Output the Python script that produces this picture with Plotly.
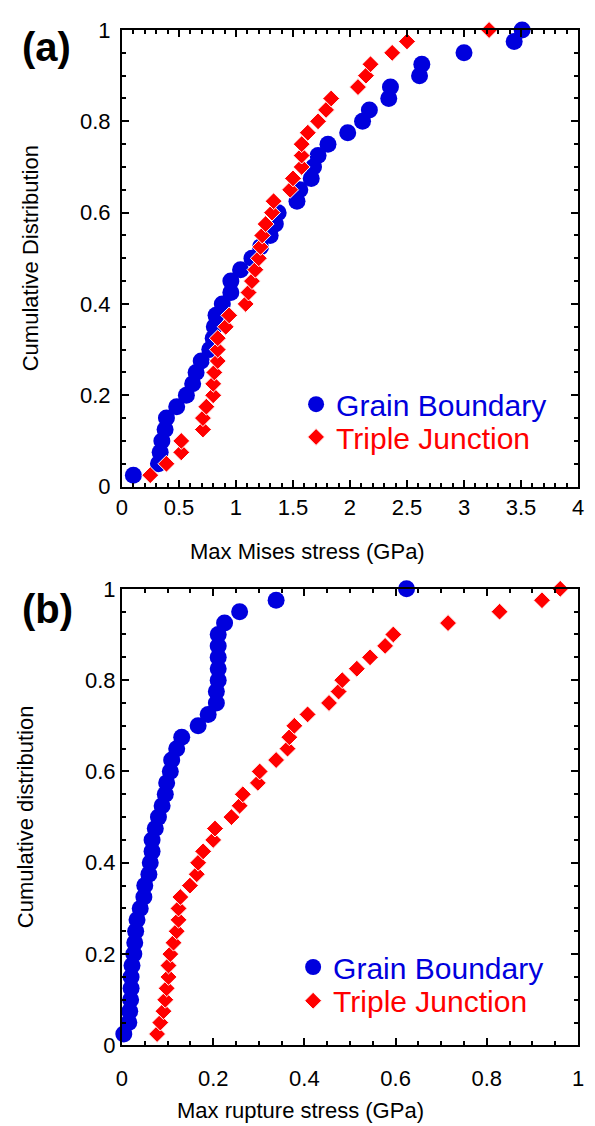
import plotly.graph_objects as go

cdf_levels = [0.025, 0.05, 0.075, 0.1, 0.125, 0.15, 0.175, 0.2, 0.225, 0.25,
              0.275, 0.3, 0.325, 0.35, 0.375, 0.4, 0.425, 0.45, 0.475, 0.5,
              0.525, 0.55, 0.575, 0.6, 0.625, 0.65, 0.675, 0.7, 0.725, 0.75,
              0.775, 0.8, 0.825, 0.85, 0.875, 0.9, 0.925, 0.95, 0.975, 1.0]

mises_gb = [0.10, 0.32, 0.335, 0.35, 0.378, 0.39, 0.48, 0.565, 0.62, 0.65,
            0.695, 0.77, 0.80, 0.81, 0.825, 0.88, 0.955, 0.955, 1.04, 1.14,
            1.215, 1.30, 1.345, 1.37, 1.535, 1.56, 1.66, 1.68, 1.72, 1.807,
            1.98, 2.11, 2.17, 2.34, 2.355, 2.61, 2.63, 3.0, 3.44, 3.51]

mises_tj = [0.248, 0.39, 0.52, 0.52, 0.71, 0.71, 0.74, 0.80, 0.80, 0.81,
            0.84, 0.84, 0.84, 0.91, 0.94, 1.085, 1.11, 1.14, 1.17, 1.20,
            1.215, 1.23, 1.26, 1.316, 1.33, 1.475, 1.50, 1.576, 1.576, 1.576,
            1.63, 1.72, 1.79, 1.835, 2.07, 2.14, 2.18, 2.37, 2.50, 3.22]

rupture_gb = [0.004, 0.015, 0.017, 0.019, 0.02, 0.02, 0.022, 0.026, 0.028, 0.03,
              0.033, 0.04, 0.048, 0.05, 0.059, 0.062, 0.066, 0.066, 0.073, 0.08,
              0.088, 0.095, 0.098, 0.106, 0.109, 0.12, 0.131, 0.167, 0.189, 0.207,
              0.207, 0.211, 0.211, 0.211, 0.211, 0.211, 0.225, 0.258, 0.338, 0.624]

rupture_tj = [0.077, 0.084, 0.091, 0.095, 0.098, 0.102, 0.102, 0.106, 0.113, 0.12,
              0.124, 0.124, 0.128, 0.149, 0.164, 0.167, 0.178, 0.20, 0.204, 0.24,
              0.258, 0.265, 0.298, 0.302, 0.338, 0.363, 0.367, 0.378, 0.407, 0.454,
              0.475, 0.483, 0.515, 0.544, 0.577, 0.595, 0.715, 0.828, 0.921, 0.961]

series_names = ["Grain Boundary", "Triple Junction"]

OFF = 8                      # default page body margin
W, H = 595 - OFF, 1126 - OFF
ML, MR, MT, MB = 20, 10, 14, 25
FONT = "Liberation Sans, Arial, sans-serif"
BLUE = "#0000dd"
RED = "#ff0000"

def px_x(p):
    return (p - OFF - ML) / (W - ML - MR)

def px_y(p):
    return 1 - (p - OFF - MT) / (H - MT - MB)

def clamp(v):
    return min(1.0, max(0.0, v))

gb_marker = dict(symbol="circle", size=17, color=BLUE, line=dict(width=0))
tj_marker = dict(symbol="diamond", size=13, color=RED, line=dict(width=1, color="white"))

fig = go.Figure()
fig.add_trace(go.Scatter(x=mises_gb, y=cdf_levels, mode="markers", name=series_names[0],
                         marker=gb_marker, xaxis="x", yaxis="y", legend="legend",
                         cliponaxis=False))
fig.add_trace(go.Scatter(x=mises_tj, y=cdf_levels, mode="markers", name=series_names[1],
                         marker=tj_marker, xaxis="x", yaxis="y", legend="legend2",
                         cliponaxis=False))
fig.add_trace(go.Scatter(x=rupture_gb, y=cdf_levels, mode="markers", name=series_names[0],
                         marker=gb_marker, xaxis="x2", yaxis="y2", legend="legend3",
                         cliponaxis=False))
fig.add_trace(go.Scatter(x=rupture_tj, y=cdf_levels, mode="markers", name=series_names[1],
                         marker=tj_marker, xaxis="x2", yaxis="y2", legend="legend4",
                         cliponaxis=False))

tickfont = dict(family=FONT, size=22, color="black")

def axis(dom, rng, dtick, minor_dtick, anchor, standoff):
    return dict(domain=[clamp(dom[0]), clamp(dom[1])], range=rng, dtick=dtick, anchor=anchor,
                showline=True, linewidth=2, linecolor="black", mirror="ticks",
                ticks="inside", ticklen=7, tickwidth=2, tickcolor="black",
                minor=dict(ticks="inside", dtick=minor_dtick, ticklen=4,
                           tickwidth=1.5, tickcolor="black"),
                ticklabelstandoff=standoff,
                showgrid=False, zeroline=False, tickfont=tickfont)

xdom = [px_x(123), px_x(584)]
fig.update_layout(
    xaxis=axis(xdom, [0, 4], 0.5, 0.1, "y", 0),
    yaxis=axis([px_y(482), px_y(22)], [0, 1], 0.2, 0.05, "x", 5),
    xaxis2=axis(xdom, [0, 1], 0.2, 0.05, "y2", 12),
    yaxis2=axis([px_y(1045), px_y(585)], [0, 1], 0.2, 0.05, "x2", 0),
)

def leg(xp, yp, color):
    return dict(x=px_x(xp), y=px_y(yp), xanchor="left", yanchor="middle",
                xref="paper", yref="paper", itemsizing="trace",
                bgcolor="rgba(0,0,0,0)", borderwidth=0,
                font=dict(family=FONT, size=30, color=color))

fig.update_layout(
    legend=leg(299, 399, BLUE),
    legend2=leg(299, 432, RED),
    legend3=leg(296, 966, BLUE),
    legend4=leg(296, 1000, RED),
)

annot_font = dict(family=FONT, size=22, color="black")
annotations = [
    dict(text="Max Mises stress (GPa)", x=px_x(311), y=px_y(547)),
    dict(text="Max rupture stress (GPa)", x=px_x(303), y=px_y(1111)),
    dict(text="Cumulative Distribution", x=px_x(30), y=px_y(252), textangle=-90),
    dict(text="Cumulative distribution", x=px_x(25), y=px_y(815), textangle=-90),
]
for a in annotations:
    a.update(xref="paper", yref="paper", xanchor="center", yanchor="middle",
             showarrow=False, font=annot_font)
annotations.append(dict(text="<b>(a)</b>", x=px_x(47), y=px_y(39), xref="paper", yref="paper",
                        xanchor="center", yanchor="middle", showarrow=False,
                        font=dict(family=FONT, size=40, color="black")))
annotations.append(dict(text="<b>(b)</b>", x=px_x(48), y=px_y(605), xref="paper", yref="paper",
                        xanchor="center", yanchor="middle", showarrow=False,
                        font=dict(family=FONT, size=40, color="black")))

fig.update_layout(
    width=W, height=H,
    margin=dict(l=ML, r=MR, t=MT, b=MB),
    paper_bgcolor="white", plot_bgcolor="white",
    showlegend=True,
    annotations=annotations,
)

fig.write_html("out.html", config={"displayModeBar": False})
